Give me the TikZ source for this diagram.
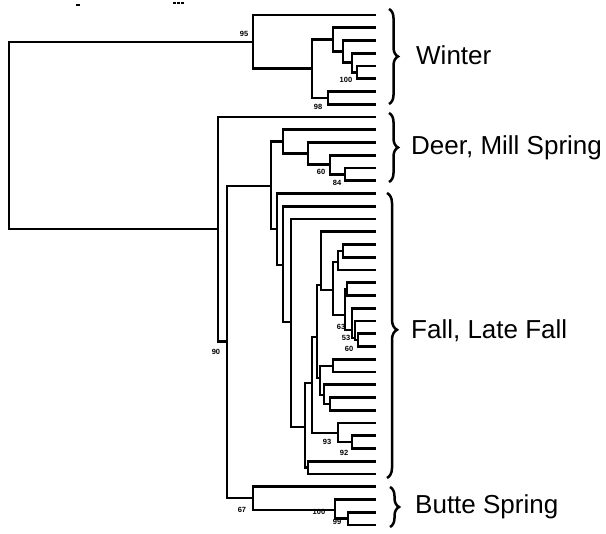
\documentclass[tikz,border=0pt]{standalone}
\usepackage{fontspec}
\setmainfont{Liberation Sans}
\usetikzlibrary{decorations.pathreplacing}
\begin{document}
\begin{tikzpicture}[x=1pt,y=-1pt,
  branch/.style={line width=2.6pt, line join=miter, line cap=butt},
  boot/.style={font=\fontsize{7.5}{7.5}\selectfont\bfseries, inner sep=0pt},
  brc/.style={decorate, decoration={brace, amplitude=9pt, aspect=0.5}, line width=2.5pt},
  grp/.style={font=\fontsize{26}{26}\selectfont, anchor=west, inner sep=0pt}]
\useasboundingbox (0,0) rectangle (606,534);
% leaves
\foreach \i in {0,...,40} \coordinate (L\i) at (376,{15+12.75*\i});
% internal nodes
\coordinate (root) at (9,135);
\coordinate (w0) at (253,41.9);
\coordinate (w1) at (312,68.8);
\coordinate (w2) at (333,39.7);
\coordinate (w3) at (343,51.6);
\coordinate (w4) at (352,62.8);
\coordinate (w5) at (357,72.4);
\coordinate (w7) at (328,97.9);
\coordinate (d0) at (218,229);
\coordinate (m1) at (227,341.5);
\coordinate (dd) at (271,186);
\coordinate (d1) at (283,141.7);
\coordinate (d2) at (308,153.7);
\coordinate (d3) at (330,164.8);
\coordinate (d4) at (345,174.4);
\coordinate (f0) at (277,229);
\coordinate (f1) at (283,265);
\coordinate (f2) at (291,322);
\coordinate (f3) at (305,427);
\coordinate (fA) at (312,383);
\coordinate (fB) at (308,467.6);
\coordinate (fC) at (317,337);
\coordinate (fD) at (338,433);
\coordinate (fJ) at (352,442);
\coordinate (fE) at (321,285);
\coordinate (fQ) at (333,290);
\coordinate (fN) at (338,262);
\coordinate (fP) at (343,251);
\coordinate (fS) at (345,315);
\coordinate (fT) at (347,289);
\coordinate (fU) at (352,330);
\coordinate (fV) at (355,338);
\coordinate (fW) at (358,340);
\coordinate (fL) at (320,378);
\coordinate (fG) at (333,366);
\coordinate (fF) at (324,395);
\coordinate (fK) at (330,404);
\coordinate (bs) at (253,498);
\coordinate (b1) at (335,510);
\coordinate (b2) at (348,518.6);
% branches
\foreach \p/\c in {root/w0,root/d0,
  w0/L0,w0/w1,w1/w2,w1/w7,w2/L1,w2/w3,w3/L2,w3/w4,w4/L3,w4/w5,w5/L4,w5/L5,w7/L6,w7/L7,
  d0/L8,d0/m1,m1/dd,m1/bs,
  dd/d1,dd/f0,d1/L9,d1/d2,d2/L10,d2/d3,d3/L11,d3/d4,d4/L12,d4/L13,
  f0/L14,f0/f1,f1/L15,f1/f2,f2/L16,f2/f3,f3/fA,f3/fB,fB/L35,fB/L36,
  fA/fC,fA/fD,fD/L32,fD/fJ,fJ/L33,fJ/L34,
  fC/fE,fC/fL,fE/L17,fE/fQ,fQ/fN,fQ/fS,fN/fP,fN/L20,fP/L18,fP/L19,
  fS/fT,fS/fU,fT/L21,fT/L22,fU/L23,fU/fV,fV/L24,fV/fW,fW/L25,fW/L26,
  fL/fG,fL/fF,fG/L27,fG/L28,fF/L29,fF/fK,fK/L30,fK/L31,
  bs/L37,bs/b1,b1/L38,b1/b2,b2/L39,b2/L40}
  \draw[branch] (\p) |- (\c);
% bootstrap values
\node[boot] (l1) at (244,34) {95};
\node[boot] (l2) at (346,80) {100};
\node[boot] (l3) at (318,107) {98};
\node[boot] (l4) at (321,172) {60};
\node[boot] (l5) at (337,183) {84};
\node[boot] (l6) at (341,327) {63};
\node[boot] (l7) at (346,338) {53};
\node[boot] (l8) at (349,349) {60};
\node[boot] (l9) at (216,352) {90};
\node[boot] (l10) at (327,442) {93};
\node[boot] (l11) at (344,453) {92};
\node[boot] (l12) at (242,510) {67};
\node[boot] (l13) at (319,512) {100};
\node[boot] (l14) at (337,522) {99};
% scan marks at top
\fill (76,4.3) rectangle (80,5.6);
\fill (173,2.5) rectangle (176,4.5);
\fill (177,2.5) rectangle (180,4.5);
\fill (181,2.5) rectangle (184,4.5);
% braces
\coordinate (bwa) at (389,9);
\coordinate (bwb) at (389,104);
\coordinate (bda) at (389,113);
\coordinate (bdb) at (389,182);
\coordinate (bfa) at (387,193);
\coordinate (bfb) at (387,478);
\coordinate (bba) at (390,487);
\coordinate (bbb) at (390,527);
\draw[brc] (bwa) -- (bwb);
\draw[brc] (bda) -- (bdb);
\draw[brc, decoration={brace, amplitude=10pt, aspect=0.48}] (bfa) -- (bfb);
\draw[brc] (bba) -- (bbb);
% group labels
\node[grp] (tw) at (416,55) {Winter};
\node[grp] (td) at (411,148) {Deer, Mill Spring};
\node[grp] (tf) at (411,331) {Fall, Late Fall};
\node[grp] (tb) at (415,507) {Butte Spring};
\end{tikzpicture}
\end{document}
